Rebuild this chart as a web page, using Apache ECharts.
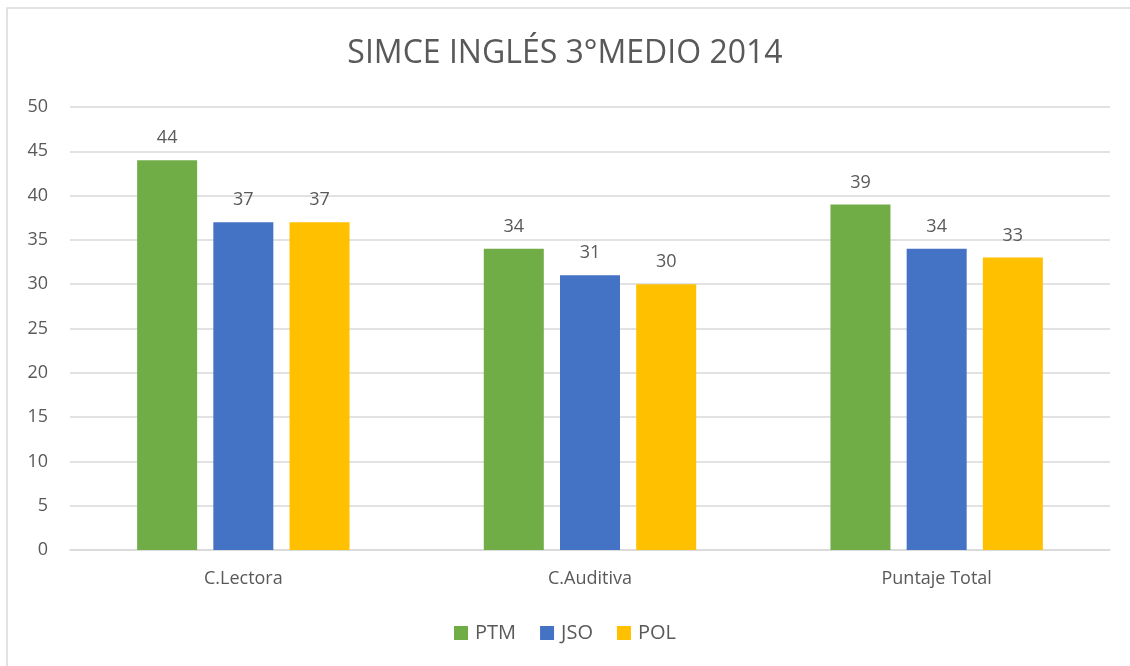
<!DOCTYPE html>
<html>
<head>
<meta charset="utf-8">
<script src="https://cdn.jsdelivr.net/npm/echarts@6/dist/echarts.min.js"></script>
<style>
	html, body { margin: 0; padding: 0; background: #fff; }
	#chart { width: 1130px; height: 666px; }
</style>
</head>
<body>
<div id="chart"></div>
<script>
// chart data
var categories = ['C.Lectora', 'C.Auditiva', 'Puntaje Total'];
var seriesNames = ['PTM', 'JSO', 'POL'];
var ptmValues = [44, 34, 39];
var jsoValues = [37, 31, 34];
var polValues = [37, 30, 33];
var yTicks = [0, 5, 10, 15, 20, 25, 30, 35, 40, 45, 50];

var colors = ['#70ad47', '#4472c4', '#ffc000'];
var textColor = '#595959';
var fontFamily = '"Open Sans", "Noto Sans", sans-serif';

var chart = echarts.init(document.getElementById('chart'), null, { renderer: 'canvas' });

function makeBar(name, data) {
	return {
		name: name,
		type: 'bar',
		data: data,
		barWidth: 60,
		barGap: '27%',
		label: {
			show: true,
			position: 'top',
			distance: 13,
			color: textColor,
			fontSize: 18,
			fontFamily: fontFamily
		}
	};
}

chart.setOption({
	animation: false,
	color: colors,
	textStyle: { fontFamily: fontFamily },
	graphic: [{
		type: 'rect',
		shape: { x: 7, y: 8, width: 1200, height: 800 },
		style: { fill: 'none', stroke: '#d9d9d9', lineWidth: 1.5 },
		silent: true
	}],
	title: {
		text: 'SIMCE INGLÉS 3°MEDIO 2014',
		left: 'center',
		top: 33,
		textStyle: {
			color: textColor,
			fontSize: 32,
			fontWeight: 'normal',
			fontFamily: fontFamily
		}
	},
	legend: {
		data: seriesNames,
		bottom: 18,
		left: 'center',
		itemWidth: 14,
		itemHeight: 14,
		itemGap: 24,
		icon: 'rect',
		textStyle: { color: textColor, fontSize: 20, padding: [0, 0, 0, 2], fontFamily: fontFamily }
	},
	grid: {
		left: 70,
		right: 20,
		top: 107,
		bottom: 116
	},
	xAxis: {
		type: 'category',
		data: categories,
		axisLine: { lineStyle: { color: '#d9d9d9', width: 1.5 } },
		axisTick: { show: false },
		axisLabel: { color: textColor, fontSize: 18, margin: 20, fontFamily: fontFamily }
	},
	yAxis: {
		type: 'value',
		min: yTicks[0],
		max: yTicks[yTicks.length - 1],
		interval: 5,
		axisLine: { show: false },
		axisTick: { show: false },
		axisLabel: { color: textColor, fontSize: 18, margin: 22, fontFamily: fontFamily },
		splitLine: { lineStyle: { color: '#d9d9d9', width: 1.5 } }
	},
	series: [
		makeBar(seriesNames[0], ptmValues),
		makeBar(seriesNames[1], jsoValues),
		makeBar(seriesNames[2], polValues)
	]
});
</script>
</body>
</html>
